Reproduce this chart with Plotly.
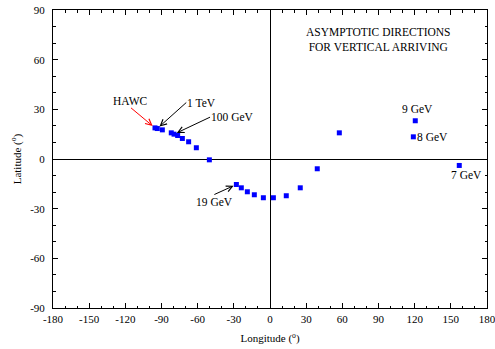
import plotly.graph_objects as go

# Asymptotic directions (longitude, latitude) in degrees
longitude = [-95.4, -93.5, -89.3, -81.9, -79.6, -76.6, -72.7, -67.5, -61.1, -50.3,
             -27.9, -23.8, -18.8, -13.0, -5.5, 2.8, 13.5, 25.1, 39.2, 57.5,
             120.5, 118.9, 157.0]
latitude = [18.8, 18.4, 17.6, 15.8, 15.0, 14.2, 12.4, 10.4, 6.8, -0.5,
            -15.4, -17.4, -19.8, -21.6, -23.4, -23.4, -22.2, -17.4, -5.9, 15.8,
            23.1, 13.4, -3.9]

x_ticks = [-180, -150, -120, -90, -60, -30, 0, 30, 60, 90, 120, 150, 180]
y_ticks = [-90, -60, -30, 0, 30, 60, 90]
x_ticktext = [str(v) for v in x_ticks]
y_ticktext = [str(v) for v in y_ticks]

FONT = "Liberation Serif"

fig = go.Figure()
fig.add_trace(go.Scatter(
    x=longitude, y=latitude, mode="markers",
    marker=dict(symbol="square", size=5, color="#0000FF", line=dict(width=0)),
    showlegend=False, hoverinfo="skip",
))

axis_common = dict(
    showgrid=False, showline=True, linecolor="black", linewidth=1,
    mirror="allticks", ticks="inside", ticklen=5, tickwidth=1, tickcolor="black",
    zeroline=True, zerolinecolor="black", zerolinewidth=1, automargin=False,
    ticklabeloverflow="allow",
    tickfont=dict(family=FONT, size=11, color="black"),
    minor=dict(ticks="inside", ticklen=2.5, tickcolor="black", tickwidth=1),
)

fig.update_xaxes(
    range=[-180, 180], tickmode="array", tickvals=x_ticks, ticktext=x_ticktext,
    ticklabelstandoff=1,
    title=dict(text="Longitude (<sup>o</sup>)", font=dict(family=FONT, size=11, color="black"), standoff=10),
    **axis_common,
)
fig.update_yaxes(
    range=[-90, 90], tickmode="array", tickvals=y_ticks, ticktext=y_ticktext,
    ticklabelstandoff=5,
    title=dict(text="Latitude (<sup>o</sup>)", font=dict(family=FONT, size=11, color="black"), standoff=6),
    **axis_common,
)
fig.layout.xaxis.minor.tickvals = list(range(-170, 180, 10))
fig.layout.yaxis.minor.tickvals = list(range(-80, 90, 10))

ann_font = dict(family=FONT, size=11.5, color="black")
annotations = []
# plain text labels
labels = [
    ("9 GeV", 122.3, 30.2),
    ("8 GeV", 134.5, 13.5),
    ("7 GeV", 162.7, -9.7),
    ("ASYMPTOTIC DIRECTIONS<br>FOR VERTICAL ARRIVING", 90.4, 71.9),
]
for txt, lx, ly in labels:
    annotations.append(dict(text=txt, x=lx, y=ly, xref="x", yref="y",
                            showarrow=False, font=ann_font))
# labels with arrows pointing to data points (text, point index, tail offset px, anchors, color)
arrow_labels = [
    ("HAWC", 0, -24, -20, "center", "bottom", "red"),
    ("1 TeV", 1, 29, -26, "left", "middle", "black"),
    ("100 GeV", 4, 36, -17, "left", "middle", "black"),
    ("19 GeV", 10, -22, 10, "center", "top", "black"),
]
for txt, idx, ax, ay, xa, ya, col in arrow_labels:
    annotations.append(dict(text=txt, x=longitude[idx], y=latitude[idx], xref="x", yref="y",
                            showarrow=True, ax=ax, ay=ay, xanchor=xa, yanchor=ya,
                            arrowhead=5, arrowsize=1.2, arrowwidth=1, arrowcolor=col,
                            standoff=3, font=ann_font, borderpad=0))

fig.update_layout(
    annotations=annotations,
    width=495, height=349,
    margin=dict(l=53, r=8, t=10, b=41),
    plot_bgcolor="white", paper_bgcolor="white",
    font=dict(family=FONT, size=11, color="black"),
)
# remove the browser's default page margin so the figure fills the window exactly
fig.write_html("out.html", config={"displayModeBar": False},
               post_script="document.body.style.margin='0';")
